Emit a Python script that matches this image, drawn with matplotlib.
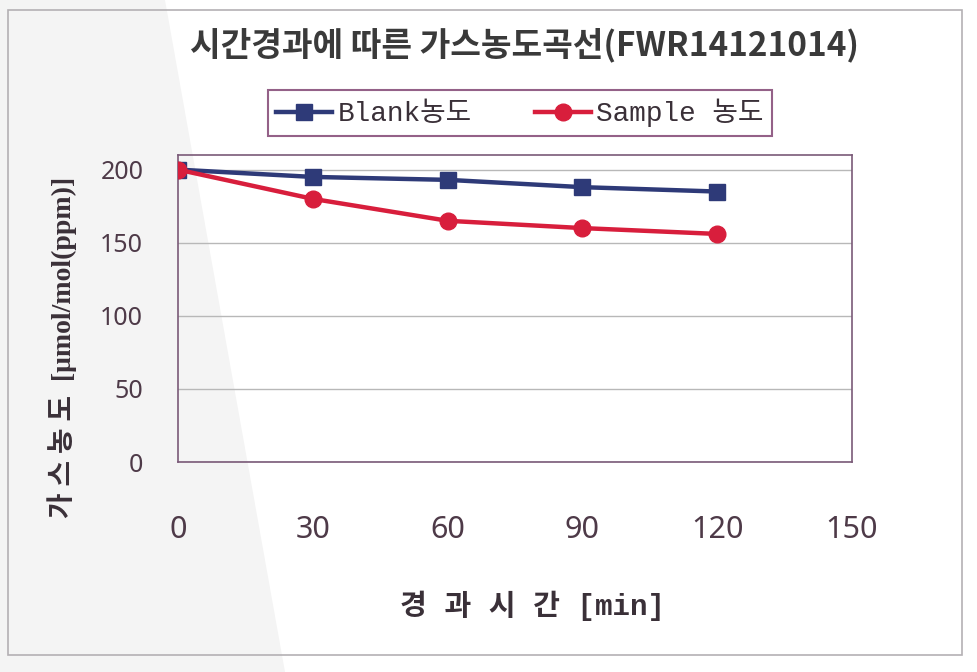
import matplotlib
matplotlib.use("Agg")
import matplotlib.pyplot as plt
from matplotlib.patches import Polygon, Rectangle

# ---- data ----
time_min = [0, 30, 60, 90, 120]
blank_conc = [200, 195, 193, 188, 185]
sample_conc = [200, 180, 165, 160, 156]
x_ticks = [0, 30, 60, 90, 120, 150]
y_ticks = [0, 50, 100, 150, 200]
title = "시간경과에 따른 가스농도곡선(FWR14121014)"
blank_label = "Blank농도"
sample_label = "Sample 농도"
x_label = "경 과 시 간 [min]"
y_label = "가 스 농 도  [μmol/mol(ppm)]"

KR = ['Noto Sans CJK KR', 'DejaVu Sans']
MONO = ['Liberation Mono', 'Noto Sans CJK KR', 'DejaVu Sans']
SERIF = ['Liberation Serif', 'Noto Sans CJK KR', 'DejaVu Sans']
plt.rcParams['font.family'] = KR

W, H = 978, 672
fig = plt.figure(figsize=(W / 100, H / 100), dpi=100)
fig.patch.set_facecolor('white')

def fx(px):
    return px / W

def fy(py):
    return 1 - py / H

# scan shading artifact on the left
fig.patches.append(Polygon([(fx(0), fy(0)), (fx(165), fy(0)), (fx(285), fy(672)), (fx(0), fy(672))],
                           closed=True, transform=fig.transFigure, facecolor='#f4f4f4',
                           edgecolor='none', zorder=-5))
# outer chart border
fig.patches.append(Rectangle((fx(8), fy(655)), fx(962) - fx(8), fy(10) - fy(655),
                             transform=fig.transFigure, facecolor='none',
                             edgecolor='#b4b0b4', linewidth=1.2, zorder=-4))

ax = fig.add_axes([fx(178), fy(462), fx(852) - fx(178), fy(155) - fy(462)])
ax.set_facecolor('none')

ax.plot(time_min, blank_conc, color='#2e3a78', linewidth=3.2, marker='s',
        markersize=12, label=blank_label, zorder=3)
ax.plot(time_min, sample_conc, color='#d81e3c', linewidth=3.2, marker='o',
        markersize=12, label=sample_label, zorder=4)

ax.set_xlim(0, 150)
ax.set_ylim(0, 210)
ax.set_xticks(x_ticks)
ax.set_yticks(y_ticks)
ax.yaxis.grid(True, color='#b8b8b8', linewidth=1.0)
ax.set_axisbelow(True)
for s in ax.spines.values():
    s.set_color('#7a5a78')
    s.set_linewidth(1.2)
ax.tick_params(axis='both', length=0, colors='#4e3a48')
ax.tick_params(axis='x', pad=38)
ax.tick_params(axis='y', pad=25)
for lbl in ax.get_xticklabels():
    lbl.set_fontfamily(['Noto Sans', 'DejaVu Sans'])
    lbl.set_fontsize(22)
for lbl in ax.get_yticklabels():
    lbl.set_fontfamily(['Noto Sans', 'DejaVu Sans'])
    lbl.set_fontsize(18)

fig.text(fx(525), fy(45), title, ha='center', va='center', fontsize=24,
         fontweight='bold', color='#3a3a3a', family=KR)

fig.text(fx(533), fy(606), x_label, ha='center', va='center', fontsize=21,
         fontweight='bold', color='#3a3038', family=MONO)
fig.text(fx(62), fy(347), y_label, ha='center', va='center', fontsize=20,
         fontweight='bold', color='#3a3038', rotation=90, family=SERIF)

leg = fig.legend(loc='center', bbox_to_anchor=(fx(520), fy(113)), ncol=2,
                 frameon=True, fancybox=False, edgecolor='#7a3a6a',
                 prop={'family': MONO, 'size': 20}, handlelength=2.0,
                 columnspacing=2.3, handletextpad=0.2, borderpad=0.3,
                 borderaxespad=0.0)
leg.get_frame().set_linewidth(1.5)
for t in leg.get_texts():
    t.set_color('#3a3038')

fig.savefig('out.png', dpi=100)
